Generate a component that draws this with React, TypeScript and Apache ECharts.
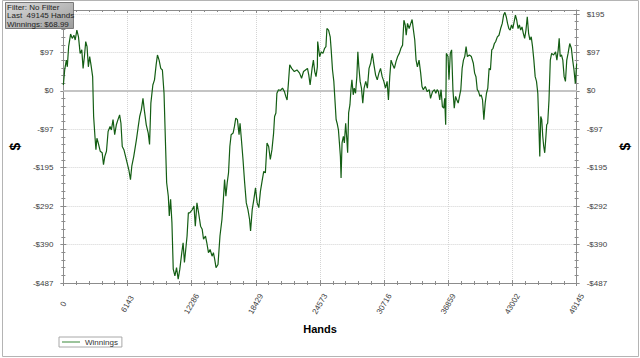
import React, { useEffect, useRef } from "react";
import * as echarts from "echarts";

// Hands (x) and cumulative winnings in $ (y)
const hands: number[] = [
  0, 126, 284, 378, 504, 693, 851, 1008, 1134, 1292,
  1449, 1607, 1764, 1890, 2016, 2142, 2268, 2394, 2520, 2646,
  2804, 2898, 3024, 3119, 3213, 3339, 3528, 3717, 3843, 3969,
  4127, 4284, 4473, 4599, 4757, 4914, 5072, 5229, 5387, 5513,
  5639, 5796, 5954, 6111, 6269, 6426, 6552, 6741, 6993, 7151,
  7308, 7466, 7623, 7749, 7938, 8127, 8253, 8379, 8568, 8726,
  8883, 9009, 9167, 9324, 9482, 9639, 9797, 9891, 10049, 10143,
  10269, 10395, 10521, 10679, 10836, 10994, 11151, 11340, 11466, 11592,
  11718, 11844, 11970,
  12097, 12349, 12507, 12633, 12790, 12948, 13137, 13294, 13420, 13609,
  13735, 13893, 14050, 14239, 14365, 14491, 14617, 14806, 14995, 15184,
  15310, 15436, 15562, 15688, 15814, 15940, 16066, 16255, 16381, 16507,
  16665, 16822, 16917, 17074, 17200, 17358, 17515, 17673, 17830, 17925,
  18082, 18240, 18397, 18555, 18712, 18870, 19027, 19185, 19342, 19500,
  19657, 19815, 19972, 20130, 20224, 20350, 20445, 20602, 20791, 20980,
  21169, 21295, 21421, 21547, 21673, 21862, 22114, 22366, 22618, 22807,
  22996, 23185, 23374, 23500, 23626, 23815, 23941, 24067, 24193, 24319,
  24350,
  24542, 24699, 24857, 25014, 25140, 25235, 25392, 25550, 25644, 25770,
  25896, 26022, 26117, 26211, 26337, 26432, 26526, 26589, 26684, 26810,
  26904, 27030, 27156, 27219, 27314, 27440, 27534, 27629, 27755, 27849,
  27975, 28101, 28196, 28290, 28416, 28542, 28668, 28794, 28952, 29109,
  29267, 29424, 29582, 29739, 29897, 30054, 30212, 30369, 30527, 30684,
  30842, 30999, 31125, 31251, 31377, 31535, 31692, 31850, 32007, 32165,
  32322, 32480, 32606, 32732, 32826, 32952, 33110, 33267, 33393, 33519,
  33645, 33771, 33897, 34055, 34212, 34338, 34464, 34653, 34842, 35031,
  35157, 35346, 35535, 35661, 35787, 35913, 36039, 36165, 36291, 36417,
  36512, 36606,
  36670, 36828, 36922, 37048, 37174, 37300, 37426, 37552, 37678, 37804,
  37930, 38056, 38182, 38308, 38434, 38560, 38686, 38875, 39064, 39253,
  39379, 39505, 39631, 39757, 39883, 40009, 40135, 40261, 40387, 40513,
  40639, 40765, 40891, 41017, 41143, 41269, 41395, 41553, 41710, 41868,
  42025, 42151, 42277, 42403, 42529, 42655, 42781, 42907, 43033, 43159,
  43285, 43411, 43537, 43663, 43789, 43915, 44041, 44167, 44293, 44419,
  44545, 44671, 44797, 44923, 45049, 45175, 45301, 45427, 45522, 45616,
  45711, 45805, 45900, 45994, 46089, 46183, 46278, 46372, 46498, 46624,
  46750, 46939, 47128, 47254, 47380, 47475, 47569, 47695, 47821, 47947,
  48073, 48199, 48325, 48483, 48640, 48766, 48892, 49018, 49145,
];

const winnings: number[] = [
  15, 53, 78, 61, 112, 144, 133, 141, 129, 154,
  137, 95, 104, 57, 87, 125, 112, 61, 87, 66,
  36, -65, -115, -149, -120, -132, -153, -157, -187, -166,
  -153, -103, -90, -99, -73, -111, -86, -73, -61, -82,
  -141, -149, -166, -183, -200, -225, -191, -166, -124, -94,
  -65, -48, -19, -48, -86, -107, -136, -31, 15, 28,
  66, 91, 78, 57, 53, -6, -149, -233, -267, -317,
  -275, -334, -452, -469, -448, -477, -452, -410, -385, -435,
  -402, -368, -309,
  -309, -301, -292, -343, -284, -309, -343, -351, -376, -368,
  -385, -410, -402, -419, -410, -427, -448, -440, -368, -326,
  -280, -225, -267, -233, -208, -141, -111, -107, -90, -69,
  -73, -111, -82, -132, -174, -233, -284, -301, -326, -355,
  -301, -275, -246, -284, -296, -254, -229, -204, -208, -132,
  -141, -174, -149, -107, -65, -56, -6, 3, 1, 7,
  -2, -14, -23, 19, 66, 57, 49, 53, 45, 32,
  49, 53, 57, 40, 15, 57, 78, 49, 36, 61,
  125,
  87, 99, 95, 108, 112, 158, 154, 137, 104, 53,
  24, -31, -73, -82, -99, -132, -166, -221, -132, -115,
  -132, -82, -128, -157, -56, -35, 3, 28, -10, 7,
  -6, 36, 99, 61, 24, 7, -31, 7, 24, 7,
  57, 70, 95, 66, 40, 28, 45, 57, 36, 24,
  7, 24, -23, 36, 78, 66, 57, 74, 87, 95,
  108, 116, 179, 167, 141, 171, 158, 171, 181, 154,
  129, 78, 61, 78, 45, 11, 3, 11, -2, 3,
  -19, -2, 3, -6, 3, -2, -23, 3, -40, -44,
  -19, -86,
  95, 87, 28, 95, 104, 3, -44, -14, -23, -31,
  -14, 3, 57, 78, 87, 112, 87, 91, 87, 70,
  45, 36, 3, -2, -14, -10, -23, -73, -31, -6,
  7, 57, 53, 104, 108, 120, 125, 137, 141, 158,
  171, 192, 199, 188, 171, 158, 154, 167, 158, 175,
  192, 179, 158, 167, 154, 162, 146, 133, 154, 188,
  146, 129, 137, 112, 78, 36, 24, -6, -82, -166,
  -65, -73, -115, -141, -157, -124, -86, -82, -23, 78,
  95, 91, 99, 78, 104, 133, 87, 91, 78, 36,
  24, 78, 95, 120, 108, 78, 53, 19, 68.99,
];

const seriesName = "Winnings";
const infoLines: string[] = ["Filter: No Filter", "Last  49145 Hands", "Winnings: $68.99"];

// Axis ranges
const X_MIN = 0;
const X_MAX = 49145;
const X_STEP = 6143.125;
const X_MINOR = 1228.625;
const Y_MIN = -487;
const Y_MAX = 205;
const Y_STEP = 97.4;
const Y_MINOR = 19.48;

const FONT = "Liberation Sans, Arial, sans-serif";
const AXIS_COLOR = "#8c8c8c";
const LABEL_COLOR = "#404040";

function tickAxis(dim: "x" | "y", position: string, interval: number, length: number, inside: boolean, showLine = false) {
  return {
    type: "value",
    position,
    min: dim === "x" ? X_MIN : Y_MIN,
    max: dim === "x" ? X_MAX : Y_MAX,
    interval,
    silent: true,
    axisLine: { show: showLine, onZero: false, lineStyle: { color: AXIS_COLOR, width: 1 } },
    axisTick: { show: true, inside, length, lineStyle: { color: AXIS_COLOR, width: 1 } },
    axisLabel: { show: false },
    splitLine: { show: false },
  };
}

function yLabel(v: number): string {
  const r = Math.round(Math.abs(v));
  if (r === 0) return "$0";
  return (v < 0 ? "-$" : "$") + r;
}

export default function App() {
  const ref = useRef<HTMLDivElement>(null);
  useEffect(() => {
    if (!ref.current) return;
    const chart = echarts.init(ref.current, undefined, { renderer: "svg" });
    const data = hands.map((h, i) => [h, winnings[i]]);

    const mainX = {
      type: "value",
      position: "bottom",
      min: X_MIN,
      max: X_MAX,
      interval: X_STEP,
      name: "Hands",
      nameLocation: "middle",
      nameGap: 37,
      nameTextStyle: { fontFamily: FONT, fontSize: 11, fontWeight: "bold", color: "#000" },
      axisLine: { show: true, onZero: false, lineStyle: { color: AXIS_COLOR, width: 1 } },
      axisTick: { show: false },
      axisLabel: {
        show: true,
        rotate: 60,
        align: "center",
        verticalAlign: "middle",
        margin: 21,
        fontFamily: FONT,
        fontSize: 8,
        color: LABEL_COLOR,
        formatter: (v: number) => String(Math.round(v)),
      },
      splitLine: { show: true, lineStyle: { color: "#d4d4d4", type: "dotted", width: 1 } },
    };

    const mainYLeft = {
      type: "value",
      position: "left",
      min: Y_MIN,
      max: Y_MAX,
      interval: Y_STEP,
      name: "$",
      nameLocation: "middle",
      nameGap: 36,
      nameTextStyle: { fontFamily: FONT, fontSize: 14, fontWeight: "bold", color: "#000" },
      axisLine: { show: true, onZero: false, lineStyle: { color: AXIS_COLOR, width: 1 } },
      axisTick: { show: false },
      axisLabel: {
        show: true,
        margin: 10,
        showMaxLabel: false,
        fontFamily: FONT,
        fontSize: 8,
        color: LABEL_COLOR,
        formatter: yLabel,
      },
      splitLine: { show: true, lineStyle: { color: "#d4d4d4", type: "dotted", width: 1 } },
    };

    const mainYRight = {
      ...mainYLeft,
      position: "right",
      splitLine: { show: false },
    };

    const option: any = {
      animation: false,
      backgroundColor: "#ffffff",
      grid: { left: 60, right: 60, top: 10, bottom: 75, containLabel: false },
      legend: {
        show: true,
        left: 59,
        top: 337,
        data: [seriesName],
        icon: "rect",
        itemWidth: 18,
        itemHeight: 2,
        itemGap: 5,
        padding: [1, 4, 1, 3],
        borderColor: "#a8a8a8",
        borderWidth: 1,
        borderRadius: 0,
        itemStyle: { color: "#9cc49c" },
        lineStyle: { color: "#9cc49c", width: 2 },
        textStyle: { fontFamily: FONT, fontSize: 8, color: "#333", padding: [0, 0, 0, 0] },
      },
      xAxis: [
        mainX,
        tickAxis("x", "bottom", X_STEP, 3, false),
        tickAxis("x", "bottom", X_STEP, 3, true),
        tickAxis("x", "bottom", X_MINOR, 2, false),
        tickAxis("x", "bottom", X_MINOR, 2, true),
        tickAxis("x", "top", X_STEP, 3, true, true),
        tickAxis("x", "top", X_MINOR, 2, true),
      ],
      yAxis: [
        mainYLeft,
        mainYRight,
        tickAxis("y", "left", Y_STEP, 3, false),
        tickAxis("y", "left", Y_STEP, 3, true),
        tickAxis("y", "left", Y_MINOR, 2, false),
        tickAxis("y", "left", Y_MINOR, 2, true),
        tickAxis("y", "right", Y_STEP, 3, false),
        tickAxis("y", "right", Y_STEP, 3, true),
        tickAxis("y", "right", Y_MINOR, 2, false),
        tickAxis("y", "right", Y_MINOR, 2, true),
      ],
      series: [
        {
          name: seriesName,
          type: "line",
          xAxisIndex: 0,
          yAxisIndex: 0,
          data,
          symbol: "none",
          showSymbol: false,
          lineStyle: { color: "#145e14", width: 1.2 },
          itemStyle: { color: "#145e14" },
          z: 3,
          markLine: {
            silent: true,
            symbol: ["none", "none"],
            label: { show: false },
            lineStyle: { color: "#c4c4c4", width: 2, type: "solid" },
            data: [{ yAxis: 0 }],
            z: 2,
          },
        },
      ],
      graphic: [
        {
          type: "rect",
          shape: { x: 2.5, y: 0.5, width: 636, height: 356 },
          style: { fill: "none", stroke: "#b4b4b4", lineWidth: 1 },
          silent: true,
          z: 0,
        },
        {
          type: "rect",
          x: 5,
          y: 2,
          z: 100,
          shape: { x: 0.5, y: 0.5, width: 68, height: 26 },
          style: {
            fill: new echarts.graphic.LinearGradient(0, 0, 1, 1, [
              { offset: 0, color: "#dadada" },
              { offset: 1, color: "#9c9c9c" },
            ]),
            stroke: "#7a7a7a",
            lineWidth: 1,
          },
        },
        ...infoLines.map((t, i) => ({
          type: "text",
          x: 7,
          y: 7 + i * 8.5,
          z: 101,
          style: {
            text: t,
            fontFamily: FONT,
            fontSize: 8,
            fill: "#1e1e1e",
            verticalAlign: "middle",
          },
        })),
      ],
    };
    chart.setOption(option);
    return () => chart.dispose();
  }, []);
  return (
    <div
      ref={ref}
      style={{ position: "fixed", left: 0, top: 0, width: 640, height: 358, background: "#fff" }}
    />
  );
}
